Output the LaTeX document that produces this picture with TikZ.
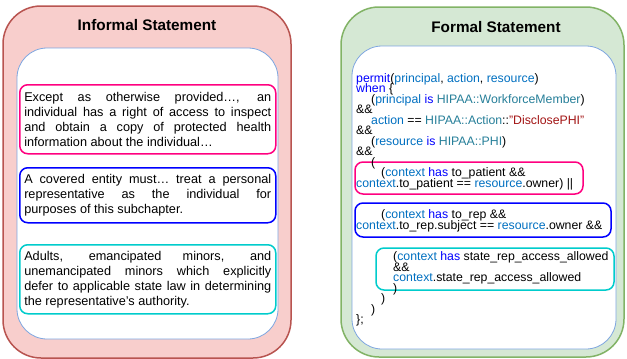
\documentclass[tikz,border=0pt]{standalone}
\usepackage{fontspec}
\setmainfont{Liberation Sans}
\definecolor{infofill}{HTML}{F8CECC}
\definecolor{infodraw}{HTML}{B85450}
\definecolor{formfill}{HTML}{D5E8D4}
\definecolor{formdraw}{HTML}{82B366}
\definecolor{innerdraw}{HTML}{7EA6E0}
\definecolor{pinkline}{HTML}{FF0080}
\definecolor{blueline}{HTML}{0000FF}
\definecolor{cyanline}{HTML}{00CCCC}
\definecolor{kwcol}{HTML}{0000FF}
\definecolor{idcol}{HTML}{0070C1}
\definecolor{tycol}{HTML}{267F99}
\definecolor{strcol}{HTML}{A31515}
\newcommand{\kw}[1]{\textcolor{kwcol}{#1}}
\newcommand{\cid}[1]{\textcolor{idcol}{#1}}
\newcommand{\ctype}[1]{\textcolor{tycol}{#1}}
\newcommand{\cstr}[1]{\textcolor{strcol}{#1}}
\begin{document}
\begin{tikzpicture}[x=1pt,y=-1pt,
    outerbox/.style={line width=1.5pt, rounded corners=38pt},
    innerbox/.style={draw=innerdraw, fill=white, line width=0.8pt, rounded corners=30pt},
    title/.style={font=\bfseries\fontsize{15.3pt}{18pt}\selectfont},
    lawtext/.style={draw, line width=1.5pt, rounded corners=8pt, anchor=north west,
        text width=247pt, inner xsep=4.5pt, minimum height=69pt, align=justify,
        font={\fontsize{12.7pt}{15pt}\selectfont\hyphenpenalty=10000\exhyphenpenalty=10000%
            \tolerance=10000\spaceskip=3.53pt plus 10pt minus 0pt\relax}},
    codebox/.style={line width=1.5pt, rounded corners=8pt}]
\useasboundingbox (0,0) rectangle (627,359);

\draw[outerbox, draw=infodraw, fill=infofill] (3,6) rectangle (291,358);
\draw[innerbox] (17,48) rectangle (278,339);
\node[title] (informal) at (147,25) {Informal Statement};

\node[lawtext, draw=pinkline] (except) at (19,84) {Except as otherwise provided…, an individual has a right of access to inspect and obtain a copy of protected health information about the individual…};
\node[lawtext, draw=blueline, minimum height=55pt] (covered) at (19,167) {A covered entity must… treat a personal representative as the individual for purposes of this subchapter.};
\node[lawtext, draw=cyanline] (adults) at (19,244) {Adults, emancipated minors, and unemancipated minors which explicitly defer to applicable state law in determining the representative’s authority.};

\draw[outerbox, draw=formdraw, fill=formfill] (341,7) rectangle (624,357);
\draw[innerbox] (352,46) rectangle (616,349);
\node[title] (formal) at (496,27) {Formal Statement};

\draw[codebox, draw=pinkline] (355,162) rectangle (583,194);
\draw[codebox, draw=blueline] (355,203) rectangle (611,237);
\draw[codebox, draw=cyanline] (376,248) rectangle (614,290);

\node[anchor=north west, inner sep=0pt, align=left,
    font={\fontsize{12.3pt}{10.5pt}\selectfont\lineskiplimit=-30pt}] (code) at (356,73.2) {%
\kw{permit}(\cid{principal}, \cid{action}, \cid{resource})\\
\kw{when} \{\\
\hspace*{15pt}(\cid{principal} \kw{is} \ctype{HIPAA::WorkforceMember})\\
\&\&\\
\hspace*{15pt}\cid{action} == \ctype{HIPAA::Action}::\cstr{"DisclosePHI"}\\
\&\&\\
\hspace*{15pt}(\cid{resource} \kw{is} \ctype{HIPAA::PHI})\\
\&\&\\
\hspace*{15pt}(\\
\hspace*{25pt}(\cid{context} \kw{has} to\_patient \&\&\\
\cid{context}.to\_patient == \cid{resource}.owner) ||\\
\mbox{}\\
\mbox{}\\
\hspace*{25pt}(\cid{context} \kw{has} to\_rep \&\&\\
\cid{context}.to\_rep.subject == \cid{resource}.owner \&\&\\
\mbox{}\\
\mbox{}\\
\hspace*{37pt}(\cid{context} \kw{has} state\_rep\_access\_allowed\\
\hspace*{37pt}\&\&\\
\hspace*{37pt}\cid{context}.state\_rep\_access\_allowed\\
\hspace*{37pt})\\
\hspace*{25pt})\\
\hspace*{15pt})\\
\};};

\end{tikzpicture}
\end{document}
